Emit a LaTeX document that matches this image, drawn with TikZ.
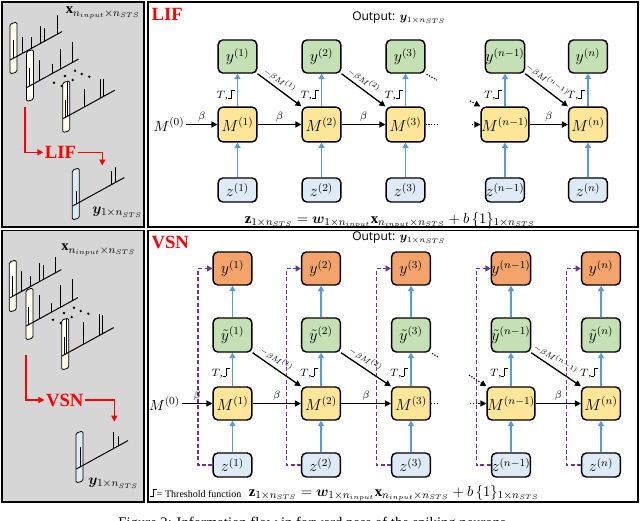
\documentclass[tikz,border=0pt]{standalone}
\usepackage{amsmath,bm}
\usepackage{fontspec}
\setmainfont{Liberation Serif}
\newfontfamily\outfont{Open Sans}
\usetikzlibrary{arrows.meta,calc}
\definecolor{gfill}{HTML}{C5E0B4}
\definecolor{yfill}{HTML}{FFE699}
\definecolor{bfill}{HTML}{DEEBF7}
\definecolor{ofill}{HTML}{F4A46A}
\definecolor{barrow}{HTML}{5B9BD5}
\definecolor{purp}{HTML}{7030A0}
\definecolor{panelgray}{HTML}{D6D6D6}
\definecolor{ivoryfill}{HTML}{FFFFEC}
\definecolor{outfill}{HTML}{DDEBF7}
\newcommand\thr{\rule{0.28em}{0.5pt}\rule{0.5pt}{0.8em}\rule[0.75em]{0.32em}{0.5pt}}
% spike train: #1 shift, #2 fill, #3 spikes dx/h
\newcommand\strain[3]{%
  \begin{scope}[shift={#1}]
    \filldraw[fill=#2, line width=0.6pt, rounded corners=1.2pt] (0,0) -- (7,-2) -- (7,48) -- (0,50) -- cycle;
    \draw[line width=0.75pt] (0.3,36) -- (52,7.6);
    \foreach \dx/\h in {#3}{
      \draw[line width=0.75pt] ({\dx},{36-0.55*(\dx-0.3)}) -- ++(0,-\h);
    }
  \end{scope}}
\tikzset{
  box/.style={draw, line width=1.1pt, rounded corners=3.5pt, minimum width=29pt, inner sep=0pt, font=\fontsize{12}{14}\selectfont},
  ybox/.style={box, fill=gfill, minimum height=24.75pt},
  mbox/.style={box, fill=yfill, minimum height=26pt},
  mboxb/.style={box, fill=yfill, minimum height=24.75pt},
  tbox/.style={box, fill=gfill, minimum height=25.5pt},
  zbox/.style={box, fill=bfill, minimum height=18pt},
  obox/.style={box, fill=ofill, minimum height=24.75pt},
  bluearrow/.style={draw=barrow, line width=1.1pt, -{Triangle[length=4pt,width=4.5pt]}},
  blkarrow/.style={draw=black, line width=1pt, -{Triangle[length=4.5pt,width=4.5pt]}},
  dotarrow/.style={draw=black, line width=0.9pt, dash pattern=on 0.9pt off 1.2pt, -{Triangle[length=4.5pt,width=4.5pt]}},
  dotline/.style={draw=black, line width=0.9pt, dash pattern=on 0.9pt off 1.2pt},
  purparrow/.style={draw=purp, line width=1pt, dash pattern=on 3pt off 1.8pt, -{Triangle[length=4pt,width=4.5pt]}},
  lbl/.style={font=\fontsize{8}{9}\selectfont, inner sep=1.5pt},
  slbl/.style={font=\fontsize{6}{7}\selectfont, inner sep=1pt},
  mlbl/.style={font=\fontsize{11}{13}\selectfont, inner sep=1pt},
  panel/.style={draw, line width=1.2pt},
  redarrow/.style={draw=red, line width=1pt, -{Triangle[length=4.5pt,width=4.5pt]}},
  redtitle/.style={font=\fontsize{14}{16}\selectfont\bfseries, text=red, inner sep=1pt},
}
\begin{document}
\begin{tikzpicture}[x=0.75pt,y=-0.75pt]
\clip (0,0) rectangle (640,521);
\fill[white] (0,0) rectangle (640,521);
% panels
\filldraw[panel, fill=panelgray] (2,2) rectangle (144,227);
\draw[panel] (148,2) rectangle (638,227);
\filldraw[panel, fill=panelgray] (2,230.5) rectangle (144,502);
\draw[panel] (148,230.5) rectangle (638,502);

% ---------- top-left panel ----------
\node[mlbl] (xlabt) at (103,13) {$\mathbf{x}_{n_{input}\times n_{STS}}$};
\strain{(10,24)}{ivoryfill}{3.5/18,12.5/16,21/12,30/18,34/13,47/19}
\strain{(26.5,51.5)}{ivoryfill}{2.6/18,13.3/20,25.6/10,34.3/20,46/20}
\strain{(62.7,82.7)}{ivoryfill}{2.3/18,5/34,21.6/18,38/19,40.3/18}
\foreach \p in {(75,70.7),(81.7,74),(89.3,76.7),(65,76),(72.7,80),(54,82.7),(61.7,86)}{
  \fill \p circle (1.3);
}
\node[redtitle] (lifl) at (60.5,152.3) {LIF};
\coordinate (lifs) at (25,107);
\coordinate (life) at (102.3,165.5);
\draw[redarrow] (lifs) |- (lifl.west);
\draw[redarrow] (lifl.east) -| (life);
\strain{(72.3,170)}{outfill}{4/13,38.7/14,42.7/16}
\node[mlbl] (ylabt) at (117.5,212) {$\bm{y}_{1\times n_{STS}}$};

% ---------- top-right panel (LIF) ----------
\node[redtitle, anchor=west] (liftitle) at (150,14.5) {LIF};
\node[anchor=west, inner sep=0pt] (outt) at (352,18) {\outfont\fontsize{9}{11}\selectfont Output: $\bm{y}_{1\times n_{STS}}$};
\foreach \i/\x/\lab in {1/237.5/1, 2/321.5/2, 3/405.5/3, 4/505/{n-1}, 5/588/n}{
  \node[ybox] (ty\i) at (\x,56.5) {$y^{(\lab)}$};
  \node[mbox] (tm\i) at (\x,124.5) {$M^{(\lab)}$};
  \node[zbox] (tz\i) at (\x,190) {$z^{(\lab)}$};
  \draw[bluearrow] (tz\i) -- (tm\i);
  \draw[bluearrow] (tm\i) -- node[lbl,left,pos=0.35]{$T$,\thr} (ty\i);
}
\node[mlbl] (tm0) at (169,124.5) {$M^{(0)}$};
\draw[blkarrow] (tm0) -- node[lbl,above]{$\beta$} (tm1);
\draw[blkarrow] (tm1) -- node[lbl,above]{$\beta$} (tm2);
\draw[blkarrow] (tm2) -- node[lbl,above]{$\beta$} (tm3);
\draw[blkarrow] (tm4) -- node[lbl,above]{$\beta$} (tm5);
\draw[blkarrow] (ty1.south east) -- node[slbl,above=1pt,sloped,pos=0.4]{$-\beta M^{(1)}$} (tm2.north west);
\draw[blkarrow] (ty2.south east) -- node[slbl,above=1pt,sloped,pos=0.4]{$-\beta M^{(2)}$} (tm3.north west);
\draw[blkarrow] (ty4.south east) -- node[slbl,above=1pt,sloped,pos=0.4]{$-\beta M^{(n-1)}$} (tm5.north west);
\coordinate (td1) at (437,80);
\coordinate (td2) at (438,124.5);
\coordinate (td3) at (472,124.5);
\coordinate (td4) at (470,101);
\draw[dotline] ($(ty3.south east)+(1,0.6)$) -- (td1);
\draw[dotline] (tm3.east) -- (td2);
\draw[dotarrow] (td3) -- (tm4.west);
\draw[dotarrow] (td4) -- (tm4.north west);
\node[mlbl] (formt) at (390,220) {$\mathbf{z}_{1\times n_{STS}} = \bm{w}_{1\times n_{input}}\mathbf{x}_{n_{input}\times n_{STS}} + b\,\{1\}_{1\times n_{STS}}$};

% ---------- bottom-left panel ----------
\node[mlbl] (xlabb) at (98.5,250) {$\mathbf{x}_{n_{input}\times n_{STS}}$};
\strain{(9.3,262)}{ivoryfill}{3.5/20,12.5/20,21/11,30/19,34/14,46/16}
\strain{(26,290)}{ivoryfill}{2.6/18,13.3/24,25.6/9,34.3/22,46/22}
\strain{(61.7,320)}{ivoryfill}{2.3/18,5/34,21.6/22,38/21,40.3/19}
\foreach \p in {(74,307.7),(80.7,311),(88.3,313.7),(64,313),(71.7,317),(53,319.7),(60.7,323)}{
  \fill \p circle (1.3);
}
\node[redtitle] (vsnl) at (64.7,400) {VSN};
\coordinate (vsns) at (26,355);
\coordinate (vsne) at (114.3,421.7);
\draw[redarrow] (vsns) |- (vsnl.west);
\draw[redarrow] (vsnl.east) -| (vsne);
\strain{(76,433)}{outfill}{4/20,37.3/17,42/10}
\node[mlbl] (ylabb) at (113.5,483) {$\bm{y}_{1\times n_{STS}}$};

% ---------- bottom-right panel (VSN) ----------
\node[redtitle, anchor=west] (vsntitle) at (150,242.5) {VSN};
\node[anchor=west, inner sep=0pt] (outb) at (352,238) {\outfont\fontsize{9}{11}\selectfont Output: $\bm{y}_{1\times n_{STS}}$};
\foreach \i/\x/\lab in {1/232.5/1, 2/321/2, 3/411/3, 4/511/{n-1}, 5/601/n}{
  \node[obox] (by\i) at (\x,268.5) {$y^{(\lab)}$};
  \node[tbox] (bt\i) at (\x,335) {$\tilde{y}^{(\lab)}$};
  \node[mboxb] (bm\i) at (\x,403.5) {$M^{(\lab)}$};
  \node[zbox] (bz\i) at (\x,465) {$z^{(\lab)}$};
  \draw[bluearrow] (bz\i) -- (bm\i);
  \draw[bluearrow] (bm\i) -- node[lbl,left,pos=0.4]{$T$,\thr} (bt\i);
  \draw[bluearrow] (bt\i) -- (by\i);
  \draw[purparrow] (bz\i.west) -| ($(by\i.west)+(-14.5,0)$) -- (by\i.west);
}
\node[mlbl] (bm0) at (164.5,403.5) {$M^{(0)}$};
\draw[blkarrow] (bm0) -- node[lbl,above]{$\beta$} (bm1);
\draw[blkarrow] (bm1) -- node[lbl,above]{$\beta$} (bm2);
\draw[blkarrow] (bm2) -- node[lbl,above]{$\beta$} (bm3);
\draw[blkarrow] (bm4) -- node[lbl,above]{$\beta$} (bm5);
\draw[blkarrow] (bt1.south east) -- node[slbl,above=1pt,sloped,pos=0.4]{$-\beta M^{(1)}$} (bm2.north west);
\draw[blkarrow] (bt2.south east) -- node[slbl,above=1pt,sloped,pos=0.4]{$-\beta M^{(2)}$} (bm3.north west);
\draw[blkarrow] (bt4.south east) -- node[slbl,above=1pt,sloped,pos=0.4]{$-\beta M^{(n-1)}$} (bm5.north west);
\coordinate (bd1) at (438,357);
\coordinate (bd2) at (438,403.5);
\coordinate (bd3) at (470,403.5);
\coordinate (bd4) at (469,375);
\draw[dotline] ($(bt3.south east)+(1,0.6)$) -- (bd1);
\draw[dotline] (bm3.east) -- (bd2);
\draw[dotarrow] (bd3) -- (bm4.west);
\draw[dotarrow] (bd4) -- (bm4.north west);
\node[anchor=west, font=\fontsize{7.5}{9}\selectfont, inner sep=0pt] (thrlab) at (150,493) {\thr= Threshold function};
\node[mlbl] (formb) at (394,493) {$\mathbf{z}_{1\times n_{STS}} = \bm{w}_{1\times n_{input}}\mathbf{x}_{n_{input}\times n_{STS}} + b\,\{1\}_{1\times n_{STS}}$};

% caption (cut by the image edge)
\node[font=\fontsize{11}{13}\selectfont, anchor=base, inner sep=0pt] (cap) at (314,527) {Figure 2: Information flow in forward pass of the spiking neurons.};
\end{tikzpicture}
\end{document}
